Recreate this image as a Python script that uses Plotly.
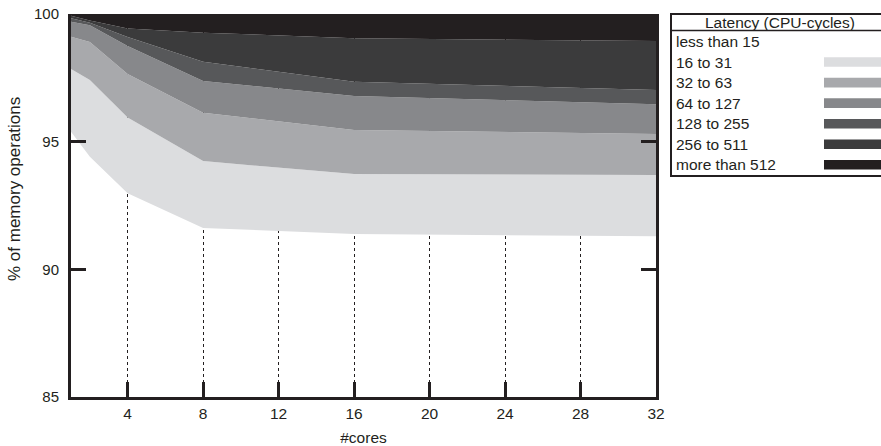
import plotly.graph_objects as go

# ---- data ----
cores = [1, 2, 4, 8, 16, 32]
categories = ["less than 15", "16 to 31", "32 to 63", "64 to 127",
              "128 to 255", "256 to 511", "more than 512"]
lt15 = [95.39, 94.41, 92.98, 91.62, 91.38, 91.30]
c16_31 = [2.46, 3.01, 2.97, 2.62, 2.35, 2.39]
c32_63 = [1.26, 1.48, 1.70, 1.89, 1.73, 1.61]
c64_127 = [0.59, 0.66, 1.10, 1.25, 1.33, 1.17]
c128_255 = [0.13, 0.10, 0.35, 0.75, 0.56, 0.55]
c256_511 = [0.10, 0.09, 0.33, 1.14, 1.70, 1.92]
gt512 = [0.07, 0.25, 0.57, 0.73, 0.95, 1.06]
series = [lt15, c16_31, c32_63, c64_127, c128_255, c256_511, gt512]
x_ticks = [4, 8, 12, 16, 20, 24, 28, 32]
y_ticks = [85, 90, 95, 100]
x_title = "#cores"
y_title = "% of memory operations"
legend_title = "Latency (CPU-cycles)"

colors = ["rgba(0,0,0,0)", "#dcdddf", "#a8a9ac", "#87888b", "#57585a", "#3b3b3c", "#231f20"]
INK = "#231f20"
FONT = "Liberation Sans, Arial, sans-serif"

W, H = 881, 446
L, R, T, B = 71, 656, 14, 397

def px(xp):
    return (xp - L) / (R - L)

def py(yp):
    return (B - yp) / (B - T)

fig = go.Figure()
for name, vals, col in zip(categories, series, colors):
    fig.add_trace(go.Scatter(
        x=cores, y=vals, name=name, mode="lines", stackgroup="one",
        line=dict(width=0, color=col), fillcolor=col, showlegend=False,
        hoverinfo="skip"))

# ---- manual legend (swatches on the right, boxed, with title) ----
shapes = []
annotations = []
box_l, box_r, box_t, box_b = 671, 890, 14, 176
shapes.append(dict(type="rect", xref="paper", yref="paper",
                   x0=px(box_l), x1=px(box_r), y0=py(box_b), y1=py(box_t),
                   line=dict(color=INK, width=2), fillcolor="white", layer="above"))
shapes.append(dict(type="line", xref="paper", yref="paper",
                   x0=px(box_l), x1=px(box_r), y0=py(30.5), y1=py(30.5),
                   line=dict(color=INK, width=1.5), layer="above"))
annotations.append(dict(text=legend_title, xref="paper", yref="paper",
                        x=px(780), y=py(22.5), xanchor="center", yanchor="middle",
                        showarrow=False, font=dict(family=FONT, size=15.5, color=INK)))
row0, step = 41.5, 20.55
for i, (name, col) in enumerate(zip(categories, colors)):
    yc = row0 + i * step
    annotations.append(dict(text=name, xref="paper", yref="paper",
                            x=px(674), y=py(yc), xanchor="left", yanchor="middle",
                            showarrow=False, font=dict(family=FONT, size=15.5, color=INK)))
    if i > 0:
        shapes.append(dict(type="rect", xref="paper", yref="paper",
                           x0=px(824), x1=px(886), y0=py(yc + 4.8), y1=py(yc - 4.8),
                           line=dict(width=0), fillcolor=col, layer="above"))

# y-axis title as rotated text
annotations.append(dict(text=y_title, xref="paper", yref="paper",
                        x=px(15), y=py(189), xanchor="center", yanchor="middle",
                        textangle=-90, showarrow=False,
                        font=dict(family=FONT, size=17, color=INK)))

fig.update_layout(
    width=W, height=H,
    margin=dict(l=L, r=W - R, t=T, b=H - B, pad=0, autoexpand=False),
    paper_bgcolor="white", plot_bgcolor="white",
    font=dict(family=FONT, size=15, color=INK),
    shapes=shapes, annotations=annotations,
    showlegend=False,
    xaxis=dict(range=[1, 32], tickvals=x_ticks, ticks="inside", ticklen=15,
               tickwidth=2.5, tickcolor=INK, showline=True, linewidth=3,
               linecolor=INK, mirror=False, showgrid=True, gridcolor="#231f20",
               griddash="dot", gridwidth=1, zeroline=False, automargin=False,
               title=dict(text=x_title, font=dict(size=15.5), standoff=12),
               tickfont=dict(size=15.5)),
    yaxis=dict(range=[85, 100], tickvals=y_ticks, ticks="inside", ticklen=15,
               tickwidth=2.5, tickcolor=INK, showline=True, linewidth=3,
               linecolor=INK, mirror="ticks", showgrid=False, zeroline=False,
               ticklabelstandoff=6, automargin=False,
               tickfont=dict(size=15)),
)

fig.write_html("out.html", config={"displayModeBar": False},
               post_script="document.body.style.margin='0';")
